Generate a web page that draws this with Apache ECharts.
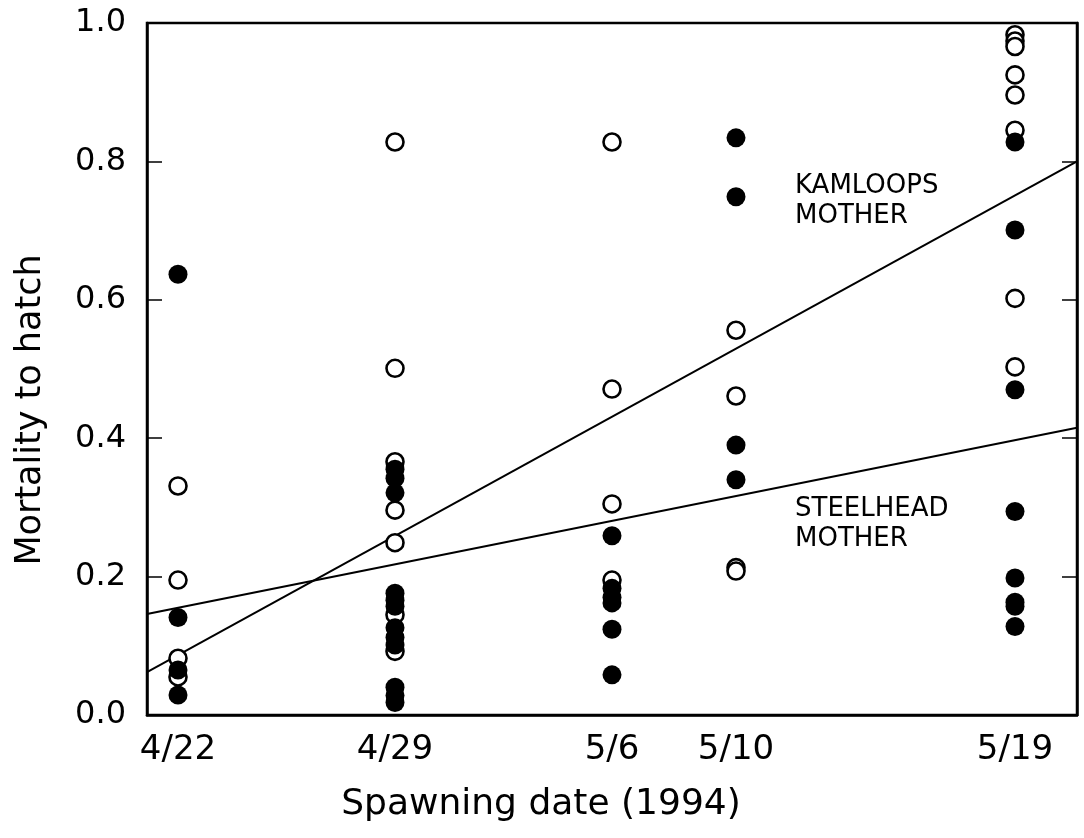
<!DOCTYPE html>
<html>
<head>
<meta charset="utf-8">
<script src="https://cdn.jsdelivr.net/npm/echarts@6/dist/echarts.min.js"></script>
<style>
html,body{margin:0;padding:0;background:#fff;}
#chart{width:1084px;height:838px;}
</style>
</head>
<body>
<div id="chart"></div>
<script>
// Spawning dates (days after 4/22/1994) and their labels
const dateLabels = ['4/22', '4/29', '5/6', '5/10', '5/19'];
const dayOffsets = [0, 7, 14, 18, 27];

// Open circles (Kamloops mother): mortality to hatch, per spawning date
const kamloopsValues = [
  [0.331, 0.195, 0.082, 0.055],
  [0.828, 0.501, 0.366, 0.296, 0.249, 0.145, 0.092],
  [0.828, 0.471, 0.305, 0.195],
  [0.556, 0.461, 0.213, 0.208],
  [0.983, 0.974, 0.966, 0.925, 0.896, 0.845, 0.602, 0.503]
];

// Filled circles (Steelhead mother)
const steelheadValues = [
  [0.637, 0.141, 0.065, 0.029],
  [0.355, 0.342, 0.321, 0.176, 0.166, 0.157, 0.126, 0.112, 0.101, 0.040, 0.028, 0.018],
  [0.259, 0.183, 0.170, 0.162, 0.124, 0.058],
  [0.834, 0.749, 0.390, 0.340],
  [0.828, 0.701, 0.470, 0.294, 0.198, 0.163, 0.157, 0.128]
];

// Regression line endpoints [day, mortality]
const kamloopsLine = [[-1, 0.062], [29, 0.800]];
const steelheadLine = [[-1, 0.146], [29, 0.415]];

const yTicks = [0, 0.2, 0.4, 0.6, 0.8, 1.0];

const xTitle = 'Spawning date (1994)';
const yTitle = 'Mortality to hatch';

function toPoints(groups) {
  const out = [];
  groups.forEach((vals, i) => vals.forEach(v => out.push([dayOffsets[i], v])));
  return out;
}

const FONT = 'DejaVu Sans';
const chart = echarts.init(document.getElementById('chart'), null, {renderer: 'canvas'});

chart.setOption({
  animation: false,
  backgroundColor: '#fff',
  grid: {left: 147, right: 7, top: 23, bottom: 123, show: true, borderColor: '#000', borderWidth: 2.5},
  xAxis: {
    type: 'value', min: -1, max: 29,
    axisLine: {show: true, onZero: false, lineStyle: {color: '#000', width: 2.5}},
    axisTick: {show: false},
    splitLine: {show: false},
    axisLabel: {
      customValues: dayOffsets,
      formatter: v => dateLabels[dayOffsets.indexOf(v)] || '',
      fontFamily: FONT, fontSize: 34, color: '#000', margin: 18
    }
  },
  yAxis: [{
    type: 'value', min: 0, max: 1, interval: 0.2,
    axisLine: {show: true, onZero: false, lineStyle: {color: '#000', width: 2.5}},
    axisTick: {show: true, inside: true, length: 15, lineStyle: {color: '#000', width: 1.5}},
    splitLine: {show: false},
    axisLabel: {
      customValues: yTicks,
      formatter: v => v.toFixed(1),
      fontFamily: FONT, fontSize: 32, color: '#000', margin: 21
    }
  }, {
    type: 'value', min: 0, max: 1, interval: 0.2, position: 'right',
    axisLine: {show: true, onZero: false, lineStyle: {color: '#000', width: 2.5}},
    axisTick: {show: true, inside: true, length: 15, lineStyle: {color: '#000', width: 1.5}},
    axisLabel: {show: false},
    splitLine: {show: false}
  }],
  series: [
    {
      name: 'Kamloops regression', type: 'line', data: kamloopsLine, symbol: 'none',
      lineStyle: {color: '#000', width: 2}, silent: true, z: 2
    },
    {
      name: 'Steelhead regression', type: 'line', data: steelheadLine, symbol: 'none',
      lineStyle: {color: '#000', width: 2}, silent: true, z: 2
    },
    {
      name: 'Kamloops mother', type: 'scatter', data: toPoints(kamloopsValues),
      symbol: 'circle', symbolSize: 17,
      itemStyle: {color: '#fff', borderColor: '#000', borderWidth: 2.6, opacity: 1}, z: 3
    },
    {
      name: 'Steelhead mother', type: 'scatter', data: toPoints(steelheadValues),
      symbol: 'circle', symbolSize: 19,
      itemStyle: {color: '#000', opacity: 1}, z: 4
    }
  ],
  graphic: [
    {type: 'text', x: 541, y: 805, style: {text: xTitle, font: '36px "DejaVu Sans"', fill: '#000', align: 'center', verticalAlign: 'middle'}},
    {type: 'text', x: 31, y: 410, rotation: Math.PI / 2, style: {text: yTitle, font: '35px "DejaVu Sans"', fill: '#000', align: 'center', verticalAlign: 'middle'}},
    {type: 'text', x: 795, y: 171, style: {text: 'KAMLOOPS\nMOTHER', font: '26px "DejaVu Sans"', fill: '#000', lineHeight: 30}},
    {type: 'text', x: 795, y: 494, style: {text: 'STEELHEAD\nMOTHER', font: '26px "DejaVu Sans"', fill: '#000', lineHeight: 30}}
  ]
});
</script>
</body>
</html>
